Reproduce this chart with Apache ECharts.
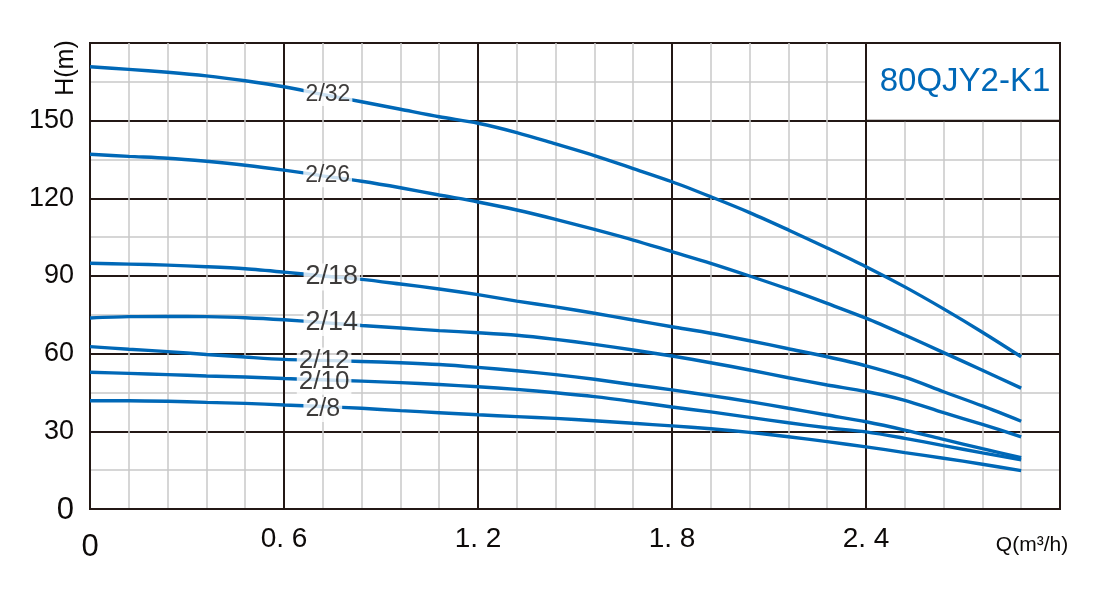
<!DOCTYPE html>
<html><head><meta charset="utf-8">
<script src="https://cdn.jsdelivr.net/npm/echarts@6/dist/echarts.min.js"></script>
<style>html,body{margin:0;padding:0;background:#fff}#c{width:1100px;height:600px}</style>
</head><body><div id="c"></div>
<script>
// Flow Q (m3/h)
const flowQ = [0,0.12,0.24,0.36,0.48,0.6,0.72,0.84,0.96,1.08,1.2,1.32,1.44,1.56,1.68,1.8,1.92,2.04,2.16,2.28,2.4,2.52,2.64,2.76,2.88];
// Head H (m) per model
const h32 = [170.8,169.8,168.7,167.3,165.4,163.1,160.1,157.3,154.4,151.5,149.0,145.4,141.0,136.5,131.5,126.4,120.6,114.5,107.8,100.8,93.6,85.8,77.3,68.3,58.8];
const h26 = [137.0,136.2,135.5,134.3,132.8,130.9,128.7,126.6,124.1,121.3,118.6,115.5,111.9,108.0,103.9,99.4,94.9,90.0,84.9,79.4,73.7,67.2,60.4,53.6,46.7];
const h18 = [94.9,94.6,94.2,93.6,92.8,91.5,90.0,88.7,86.9,85.0,82.8,80.3,78.1,75.6,73.0,70.4,67.9,65.0,61.9,58.8,55.3,50.9,45.3,39.8,33.9];
const h14 = [73.8,74.3,74.4,74.3,73.9,73.1,72.0,70.9,69.9,68.9,68.1,67.1,65.5,63.6,61.4,59.1,56.5,53.7,50.7,47.9,45.4,42.0,37.2,32.7,27.9];
const h12 = [62.7,61.7,60.8,59.7,58.7,57.8,57.4,57.0,56.5,55.8,54.7,53.4,51.9,50.1,48.0,46.0,43.8,41.5,38.9,36.3,33.7,30.5,26.9,23.3,19.8];
const h10 = [52.8,52.4,51.9,51.4,51.0,50.4,49.9,49.4,48.8,48.1,47.2,46.2,44.9,43.4,41.5,39.4,37.5,35.4,33.3,31.4,29.8,27.3,24.5,21.7,19.0];
const h8  = [41.8,41.8,41.6,41.2,40.8,40.2,39.6,38.9,38.0,37.2,36.4,35.7,35.0,34.1,33.1,32.1,31.0,29.6,27.9,26.0,24.0,21.8,19.6,17.3,14.8];
const curveNames = ['2/32','2/26','2/18','2/14','2/12','2/10','2/8'];
const curveHeads = [h32,h26,h18,h14,h12,h10,h8];
// where each curve label sits (Q value) and its font size
const labelQ = [0.736,0.735,0.748,0.748,0.724,0.724,0.72];
const labelIdx = 6;
const labelFont = [23,23,27,27,26,26,25];
const labelShift = [0,0,1,0,0,2,3];
const yTicks = [0,30,60,90,120,150];
const xTickText = {'0.6':'0. 6','1.2':'1. 2','1.8':'1. 8','2.4':'2. 4'};
const modelName = '80QJY2-K1';

const chart = echarts.init(document.getElementById('c'), null, {renderer:'canvas'});
const blue = '#0068b7', dark = '#231815', gray = '#c9c9c9', ink = '#0d0a09';
const FF = 'Liberation Sans';
const series = curveNames.map((n,i)=>({
  name:n, type:'line', showSymbol:false, symbol:'none', smooth:0.3,
  lineStyle:{color:blue, width:3.4}, z:3, silent:true,
  data: flowQ.map((q,k)=>[q, curveHeads[i][k]])
}));
series.push({
  type:'scatter', symbolSize:0, z:10, silent:true,
  itemStyle:{color:'#fff'},
  data: curveNames.map((n,i)=>({
    name:n, value:[labelQ[i], curveHeads[i][labelIdx]],
    label:{show:true, position:'inside', formatter:n, fontSize:labelFont[i], color:ink,
      textBorderWidth:0, textBorderColor:'transparent', textShadowBlur:0,
      fontFamily:FF, backgroundColor:'#fff', padding:[0,2], offset:[0,labelShift[i]]}
  }))
});
chart.setOption({
  animation:false,
  backgroundColor:'#fff',
  grid:{left:90, right:40, top:43, bottom:91, show:true, borderColor:dark, borderWidth:2, backgroundColor:'transparent'},
  xAxis:{type:'value', min:0, max:3, interval:0.6,
    axisLine:{show:true, lineStyle:{color:dark, width:2}}, axisTick:{show:false},
    splitLine:{show:true, lineStyle:{color:dark, width:2}},
    minorTick:{show:false, splitNumber:5},
    minorSplitLine:{show:true, lineStyle:{color:gray, width:1.5}},
    axisLabel:{margin:16, fontSize:28, color:ink, fontFamily:FF,
      formatter:v=>{ if(v===0) return '{z|0}'; const s=xTickText[v.toFixed(1)]; return s||''; },
      rich:{z:{fontSize:31, padding:[7,0,0,0], color:ink, fontFamily:FF}}}
  },
  yAxis:{type:'value', min:0, max:180, interval:30,
    axisLine:{show:true, lineStyle:{color:dark, width:2}}, axisTick:{show:false},
    splitLine:{show:true, lineStyle:{color:dark, width:2}},
    minorTick:{show:false, splitNumber:2},
    minorSplitLine:{show:true, lineStyle:{color:gray, width:1.5}},
    axisLabel:{margin:16, fontSize:27, color:ink, fontFamily:FF,
      formatter:v=> v===0 ? '{z|0}' : (yTicks.indexOf(v)>=0 ? String(v) : ''),
      rich:{z:{fontSize:31, color:ink, fontFamily:FF, padding:[3,0,0,0]}}}
  },
  series: series
});
const p1 = chart.convertToPixel({gridIndex:0},[2.4,180]);
const p2 = chart.convertToPixel({gridIndex:0},[3.0,150]);
chart.setOption({graphic:[
  {type:'rect', z:20, shape:{x:p1[0], y:p1[1], width:p2[0]-p1[0], height:p2[1]-p1[1]},
   style:{fill:'#fff', stroke:dark, lineWidth:2}},
  {type:'text', z:21, x:(p1[0]+p2[0])/2+2, y:(p1[1]+p2[1])/2,
   style:{text:modelName, fill:blue, fontSize:33, fontFamily:FF, align:'center', verticalAlign:'middle'}},
  {type:'text', z:21, x:66, y:68, rotation:Math.PI/2,
   style:{text:'H(m)', fill:ink, fontSize:25, fontFamily:FF, align:'center', verticalAlign:'middle'}},
  {type:'text', z:21, x:1032, y:545,
   style:{text:'Q(m³/h)', fill:ink, fontSize:21, fontFamily:FF, align:'center', verticalAlign:'middle'}}
]});
</script></body></html>
